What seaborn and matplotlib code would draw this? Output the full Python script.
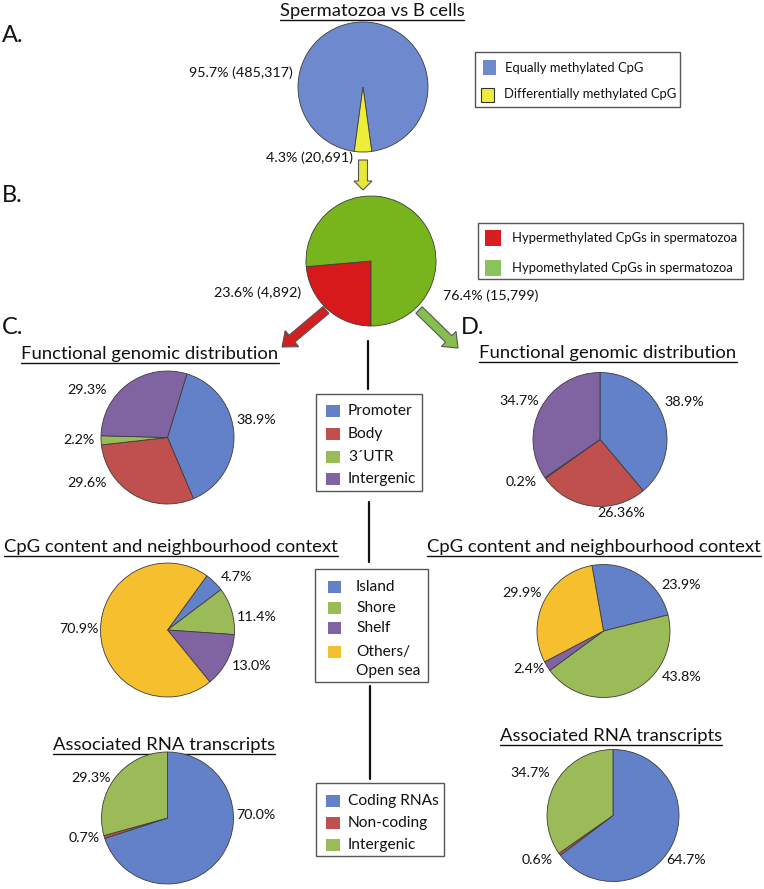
import matplotlib
matplotlib.use("Agg")
import matplotlib.pyplot as plt
import seaborn as sns
from matplotlib.patches import Rectangle, FancyArrow

sns.set_theme(style="white")
plt.rcParams['font.family'] = ['Lato', 'DejaVu Sans']

# ---------------- data ----------------
A_labels = ["Equally methylated CpG", "Differentially methylated CpG"]
A_pct = [95.7, 4.3]
A_counts = [485317, 20691]

B_labels = ["Hypermethylated CpGs in spermatozoa", "Hypomethylated CpGs in spermatozoa"]
B_pct = [23.6, 76.4]
B_counts = [4892, 15799]

func_cats = ["Promoter", "Body", "3\u00b4UTR", "Intergenic"]
C_func = [38.9, 29.6, 2.2, 29.3]
D_func = [38.9, 26.36, 0.2, 34.7]

cpg_cats = ["Island", "Shore", "Shelf", "Others/\nOpen sea"]
C_cpg = [4.7, 11.4, 13.0, 70.9]
D_cpg = [23.9, 43.8, 2.4, 29.9]

rna_cats = ["Coding RNAs", "Non-coding", "Intergenic"]
C_rna = [70.0, 0.7, 29.3]
D_rna = [64.7, 0.6, 34.7]

# ---------------- colours ----------------
A_colors = ["#6E89CD", "#EDED3B"]
B_colors = ["#D7191C", "#78B41C"]
B_leg_colors = ["#D81E1E", "#8AC25D"]
func_colors = ["#6381C8", "#C0504D", "#9BBB59", "#8064A2"]
cpg_colors = ["#6381C8", "#9BBB59", "#8064A2", "#F6BF2D"]
rna_colors = ["#6381C8", "#C0504D", "#9BBB59"]
TXT = "#111111"
EDGE = "#3c3c3c"

W, H = 764, 889
fig = plt.figure(figsize=(W / 100, H / 100), dpi=100)
fig.patch.set_facecolor("white")
ax0 = fig.add_axes([0, 0, 1, 1])
ax0.set_xlim(0, W)
ax0.set_ylim(H, 0)
ax0.axis("off")


def pie_at(cx, cy, r, values, colors, startangle, counterclock=False):
    m = 1.03
    rr = r * m
    pax = fig.add_axes([(cx - rr) / W, 1 - (cy + rr) / H, 2 * rr / W, 2 * rr / H])
    pax.pie(values, colors=colors, startangle=startangle, counterclock=counterclock,
            radius=1, wedgeprops=dict(edgecolor=EDGE, linewidth=0.6))
    pax.set_xlim(-m, m)
    pax.set_ylim(-m, m)
    pax.axis("off")
    return pax


def lab(x, y, s, size=10.3, ha="center"):
    ax0.text(x, y, s, ha=ha, va="center", fontsize=size, color=TXT)


titles = []


def utitle(x, y, s, size=13.3):
    t = ax0.text(x, y, s, ha="center", va="center", fontsize=size, color=TXT)
    titles.append((t, y + 8.5))


def box(x0, y0, x1, y1):
    ax0.add_patch(Rectangle((x0, y0), x1 - x0, y1 - y0, fill=False, ec="#555555", lw=1.0))


def sq(x, y, w, h, c, ec=None):
    ax0.add_patch(Rectangle((x, y - h / 2), w, h, fc=c, ec=ec if ec else c, lw=0.8 if ec else 0))


# ---------------- section letters ----------------
for s, x, y in [("A.", 2, 35), ("B.", 2, 196), ("C.", 2, 327), ("D.", 461, 327)]:
    ax0.text(x, y, s, ha="left", va="center", fontsize=17, color=TXT)

# ---------------- A ----------------
utitle(372, 11, "Spermatozoa vs B cells", 13.2)
pie_at(363, 87, 65, A_pct, A_colors, startangle=262.26)
lab(241, 73, f"{A_pct[0]}% ({A_counts[0]:,})")
lab(310, 158, f"{A_pct[1]}% ({A_counts[1]:,})")
box(475, 52, 680, 107)
sq(483, 67.5, 13, 15, A_colors[0])
sq(481, 95, 13, 14, A_colors[1], ec="#333333")
lab(505, 68, A_labels[0], 9.4, ha="left")
lab(504, 94, A_labels[1], 9.4, ha="left")

ax0.add_patch(FancyArrow(363, 160, 0, 30, width=9, head_width=18, head_length=9,
                         length_includes_head=True, fc="#E8E83A", ec="#555555", lw=0.8))

# ---------------- B ----------------
pie_at(371, 261, 65, B_pct, B_colors, startangle=185, counterclock=True)
lab(258, 293, f"{B_pct[0]}% ({B_counts[0]:,})")
lab(491, 296, f"{B_pct[1]}% ({B_counts[1]:,})")
box(478, 223, 743, 279)
sq(485, 238, 16, 16, B_leg_colors[0])
sq(485, 268, 16, 16, B_leg_colors[1])
lab(512, 238, B_labels[0], 9.4, ha="left")
lab(512, 268, B_labels[1], 9.4, ha="left")

ax0.add_patch(FancyArrow(326, 310, -44, 37, width=9, head_width=21, head_length=13,
                         length_includes_head=True, fc="#D21F1F", ec="#555555", lw=0.8))
ax0.add_patch(FancyArrow(419, 310, 39, 38, width=9, head_width=21, head_length=13,
                         length_includes_head=True, fc="#86BF4F", ec="#555555", lw=0.8))

# ---------------- central connector lines & legends ----------------
for x, y0, y1 in [(368, 341, 389), (369, 502, 562), (370, 686, 779)]:
    ax0.plot([x, x], [y0, y1], color="#111111", lw=1.6)

box(316, 394, 422, 491)
for c, t, yy in zip(func_colors, func_cats, [411, 434, 457, 479]):
    sq(326, yy, 14, 12, c)
    lab(348, yy, t, 11.2, ha="left")

box(315, 569, 428, 682)
for c, t, yy in zip(cpg_colors, cpg_cats, [587, 608, 628, 652]):
    sq(328, yy, 13, 12, c)
    for k, line in enumerate(t.split("\n")):
        lab(356, yy + 19.5 * k, line, 11.2, ha="left")

box(316, 783, 444, 856)
for c, t, yy in zip(rna_colors, rna_cats, [801, 823, 845]):
    sq(326, yy, 14, 12, c)
    lab(348, yy, t, 11.2, ha="left")

# ---------------- C panels ----------------
utitle(150, 354, "Functional genomic distribution")
pie_at(167.5, 437.5, 66.5, C_func, func_colors, startangle=73)
for v, (x, y) in zip(C_func, [(256, 420), (87.5, 483), (79, 440), (87.5, 390)]):
    lab(x, y, f"{v}%")

utitle(171, 547, "CpG content and neighbourhood context")
pie_at(167.5, 630, 67, C_cpg, cpg_colors, startangle=54)
for v, (x, y) in zip(C_cpg, [(236, 577), (257, 617), (251.5, 666), (78.5, 629)]):
    lab(x, y, f"{v}%")

utitle(164, 745, "Associated RNA transcripts")
pie_at(167.5, 818, 66, C_rna, rna_colors, startangle=90)
for v, (x, y) in zip(C_rna, [(256, 815), (84, 838), (91, 778)]):
    lab(x, y, f"{v}%")

# ---------------- D panels ----------------
utitle(608, 353, "Functional genomic distribution")
pie_at(600, 439.5, 67, D_func, func_colors, startangle=90)
for v, (x, y) in zip(D_func, [(684, 402), (621, 513), (521, 482), (519, 401)]):
    lab(x, y, f"{v}%")

utitle(594, 547, "CpG content and neighbourhood context")
pie_at(603.5, 631, 66.5, D_cpg, cpg_colors, startangle=100)
for v, (x, y) in zip(D_cpg, [(681, 585), (682, 677), (529.5, 669), (522, 593)]):
    lab(x, y, f"{v}%")

utitle(611, 736, "Associated RNA transcripts")
pie_at(613, 815.5, 66, D_rna, rna_colors, startangle=90)
for v, (x, y) in zip(D_rna, [(686, 860), (537.5, 860), (530.5, 773)]):
    lab(x, y, f"{v}%")

# ---------------- underlines ----------------
fig.canvas.draw()
r = fig.canvas.get_renderer()
inv = ax0.transData.inverted()
for t, yu in titles:
    bb = t.get_window_extent(r)
    (x0, _), (x1, _) = inv.transform([[bb.x0, bb.y0], [bb.x1, bb.y1]])
    ax0.plot([x0, x1], [yu, yu], color=TXT, lw=1.0)

fig.savefig("out.png", dpi=100, facecolor="white")
